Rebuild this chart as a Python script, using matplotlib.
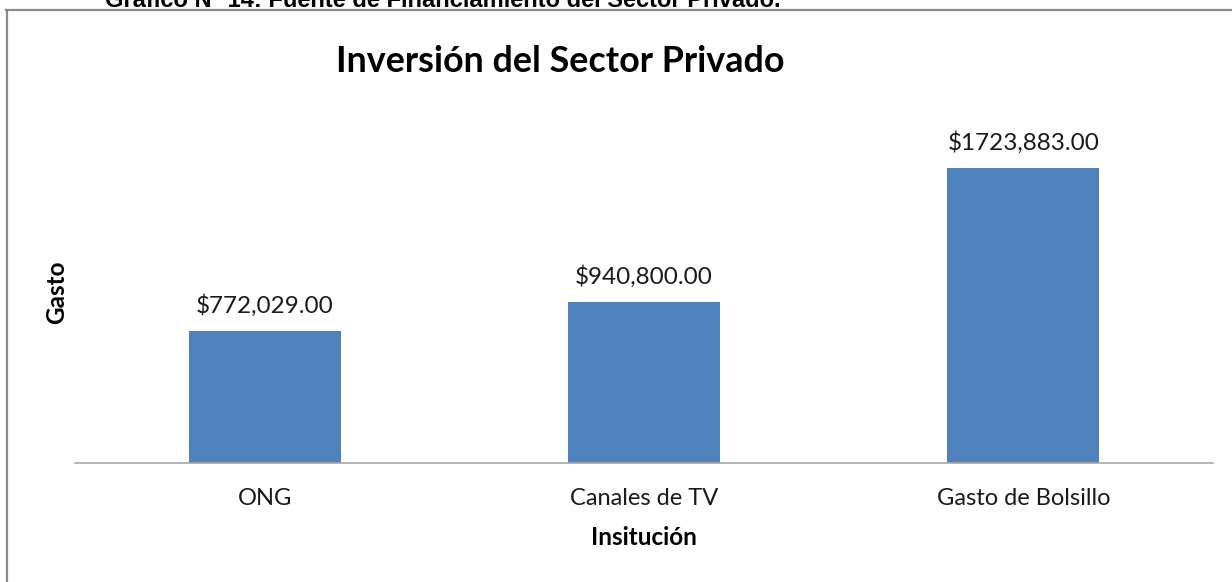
import matplotlib.pyplot as plt
from matplotlib.lines import Line2D

categorias = ['ONG', 'Canales de TV', 'Gasto de Bolsillo']
gasto = [772029.00, 940800.00, 1723883.00]
etiquetas = ['$772,029.00', '$940,800.00', '$1723,883.00']

W, H = 1232, 582
fig = plt.figure(figsize=(W / 100, H / 100), dpi=100)

# marco del documento (solo borde superior e izquierdo visibles)
gris = '#8a8a8a'
fig.add_artist(Line2D([6 / W, 1], [1 - 9.5 / H] * 2, color=gris, lw=1.6, transform=fig.transFigure))
fig.add_artist(Line2D([7 / W] * 2, [0, 1 - 9.5 / H], color=gris, lw=1.6, transform=fig.transFigure))

# leyenda del documento, cortada por arriba
fig.text(105 / W, 1 - 7 / H, 'Gráfico N° 14: Fuente de Financiamiento del Sector Privado.',
         family='Liberation Sans', weight='bold', fontsize=17, va='baseline', ha='left')

ax = fig.add_axes([75 / W, (H - 463) / H, (1213 - 75) / W, (463 - 121) / H])
x = range(len(categorias))
bars = ax.bar(x, gasto, width=0.40, color='#4F81BD')
ax.set_xlim(-0.5, 2.5)
ax.set_ylim(0, 2000000)

for b, t in zip(bars, etiquetas):
    ax.annotate(t, (b.get_x() + b.get_width() / 2, b.get_height()), xytext=(0, 10),
                textcoords='offset points', ha='center', va='bottom',
                family='Lato', fontsize=17.5, color='#1a1a1a')

ax.set_xticks(list(x))
ax.set_xticklabels(categorias, family='Lato', fontsize=17, color='#1a1a1a')
ax.tick_params(axis='x', length=0, pad=18)
ax.set_yticks([])
for s in ['left', 'right', 'top']:
    ax.spines[s].set_visible(False)
ax.spines['bottom'].set_color('#a6a6a6')
ax.spines['bottom'].set_linewidth(1.2)

ax.set_xlabel('Insitución', family='Lato', weight='bold', fontsize=17.5, labelpad=12)
ax.set_ylabel('Gasto', family='Lato', weight='bold', fontsize=17.5, labelpad=5)

fig.text(560 / W, 1 - 62 / H, 'Inversión del Sector Privado', family='Lato', weight='bold',
         fontsize=25.8, ha='center', va='center')

fig.savefig('out.png', dpi=100)
